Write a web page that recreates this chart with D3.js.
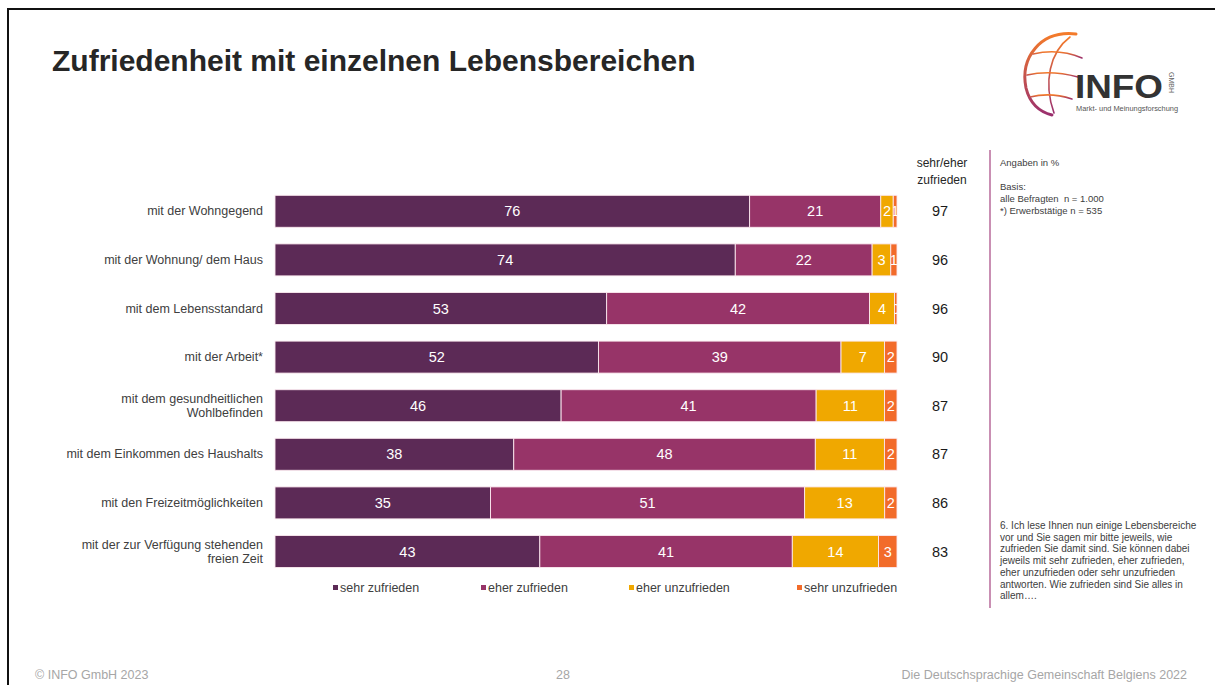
<!DOCTYPE html>
<html>
<head>
<meta charset="utf-8">
<script src="https://cdnjs.cloudflare.com/ajax/libs/d3/7.8.5/d3.min.js"></script>
<style>
  body { margin: 0; background: #fff; }
  svg { display: block; font-family: "Liberation Sans", Arial, sans-serif; }
</style>
</head>
<body>
<svg id="chart" width="1215" height="685"></svg>
<script>
// ====================== DATA ======================
const categories = [
  "mit der Wohngegend",
  "mit der Wohnung/ dem Haus",
  "mit dem Lebensstandard",
  "mit der Arbeit*",
  "mit dem gesundheitlichen|Wohlbefinden",
  "mit dem Einkommen des Haushalts",
  "mit den Freizeitmöglichkeiten",
  "mit der zur Verfügung stehenden|freien Zeit"
];
const seriesNames = ["sehr zufrieden", "eher zufrieden", "eher unzufrieden", "sehr unzufrieden"];
const sehrZufrieden   = [76, 74, 53, 52, 46, 38, 35, 43];
const eherZufrieden   = [21, 22, 42, 39, 41, 48, 51, 41];
const eherUnzufrieden = [2, 3, 4, 7, 11, 11, 13, 14];
const sehrUnzufrieden = [0.6, 1, 0.4, 2, 2, 2, 2, 3];
const topBox = [97, 96, 96, 90, 87, 87, 86, 83];
const colors = ["#5c2a56", "#973468", "#f0a800", "#f26b2a"];

const rows = categories.map((c, i) => ({
  cat: c,
  "sehr zufrieden": sehrZufrieden[i],
  "eher zufrieden": eherZufrieden[i],
  "eher unzufrieden": eherUnzufrieden[i],
  "sehr unzufrieden": sehrUnzufrieden[i],
  top: topBox[i]
}));

const svg = d3.select("#chart");

// ====================== FRAME ======================
svg.append("line").attr("x1", 8).attr("x2", 1215).attr("y1", 9).attr("y2", 9)
  .attr("stroke", "#111").attr("stroke-width", 2);
svg.append("line").attr("x1", 8).attr("x2", 8).attr("y1", 8).attr("y2", 685)
  .attr("stroke", "#111").attr("stroke-width", 2);

// title
svg.append("text")
  .attr("x", 52).attr("y", 71)
  .style("font-size", "30px").style("font-weight", "bold").attr("fill", "#262626")
  .text("Zufriedenheit mit einzelnen Lebensbereichen");

// ====================== LOGO ======================
const defs = svg.append("defs");
const grad = defs.append("linearGradient").attr("id", "logoGrad")
  .attr("x1", 0).attr("y1", 0).attr("x2", 0).attr("y2", 1);
grad.append("stop").attr("offset", "0%").attr("stop-color", "#f47b2a");
grad.append("stop").attr("offset", "100%").attr("stop-color", "#9a2f6e");

const logo = svg.append("g").attr("fill", "none").attr("stroke", "url(#logoGrad)").attr("stroke-linecap", "round");
logo.append("path").attr("d", "M1076,34 C1040,30 1020,58 1026,88 C1030,104 1040,112 1052,115").attr("stroke-width", 3);
logo.append("path").attr("d", "M1070,37 C1050,52 1043,82 1054,113").attr("stroke-width", 1.6);
logo.append("path").attr("d", "M1033,54 C1050,50 1068,52 1082,58").attr("stroke-width", 1.6);
logo.append("path").attr("d", "M1027,75 C1045,71 1063,73 1078,77").attr("stroke-width", 1.6);
logo.append("path").attr("d", "M1030,97 C1046,93 1060,95 1072,99").attr("stroke-width", 1.6);
svg.append("text").attr("x", 1075).attr("y", 98)
  .style("font-size", "33px").style("font-weight", "bold").attr("fill", "#333")
  .attr("textLength", 88).attr("lengthAdjust", "spacingAndGlyphs")
  .text("INFO");
svg.append("text").attr("transform", "translate(1169,72) rotate(90)")
  .style("font-size", "7px").attr("fill", "#666").text("GMBH");
svg.append("text").attr("x", 1076).attr("y", 111)
  .style("font-size", "7.5px").attr("fill", "#555")
  .attr("textLength", 102).attr("lengthAdjust", "spacingAndGlyphs")
  .text("Markt- und Meinungsforschung");

// ====================== CHART ======================
const x = d3.scaleLinear().domain([0, 1]).range([275, 897]);
const y = d3.scaleBand().domain(categories).range([187, 575.8])
  .paddingInner(0.342).paddingOuter(0.171);

const stack = d3.stack().keys(seriesNames).offset(d3.stackOffsetExpand);
const series = stack(rows);

series.forEach((s, si) => {
  const g = svg.append("g");
  s.forEach((d, i) => {
    const x0 = x(d[0]), x1 = x(d[1]);
    const yy = y(d.data.cat), h = y.bandwidth();
    const clipId = `clip-${si}-${i}`;
    defs.append("clipPath").attr("id", clipId)
      .append("rect").attr("x", x0).attr("y", yy).attr("width", Math.max(0, x1 - x0)).attr("height", h);
    g.append("rect")
      .attr("x", x0).attr("y", yy)
      .attr("width", Math.max(0, x1 - x0)).attr("height", h)
      .attr("fill", colors[si])
      .attr("stroke", "#fbe9ef").attr("stroke-width", 0.9);
    g.append("text")
      .attr("clip-path", `url(#${clipId})`)
      .attr("x", (x0 + x1) / 2).attr("y", yy + h / 2 + 5)
      .attr("text-anchor", "middle")
      .style("font-size", "14.5px").attr("fill", "#fff")
      .text(Math.round(d.data[seriesNames[si]]));
  });
});

// category labels
categories.forEach(c => {
  const parts = c.split("|");
  const cy = y(c) + y.bandwidth() / 2;
  const t = svg.append("text").attr("text-anchor", "end")
    .style("font-size", "12.5px").attr("fill", "#404040");
  parts.forEach((p, k) => {
    t.append("tspan").attr("x", 263)
      .attr("y", cy + 4 + (k - (parts.length - 1) / 2) * 14)
      .text(p);
  });
});

// top box column
svg.append("text").attr("x", 942).attr("y", 167).attr("text-anchor", "middle")
  .style("font-size", "12px").attr("fill", "#262626").text("sehr/eher");
svg.append("text").attr("x", 942).attr("y", 184).attr("text-anchor", "middle")
  .style("font-size", "12px").attr("fill", "#262626").text("zufrieden");
rows.forEach(d => {
  svg.append("text").attr("x", 940).attr("y", y(d.cat) + y.bandwidth() / 2 + 5)
    .attr("text-anchor", "middle").style("font-size", "14.5px").attr("fill", "#1a1a1a")
    .text(d.top);
});

// legend
const legendX = [333, 481, 629, 797];
seriesNames.forEach((n, i) => {
  svg.append("rect").attr("x", legendX[i]).attr("y", 585).attr("width", 5).attr("height", 5)
    .attr("fill", colors[i]);
  svg.append("text").attr("x", legendX[i] + 7).attr("y", 592)
    .style("font-size", "12.5px").attr("fill", "#404040").text(n);
});

// ====================== SIDE NOTES ======================
svg.append("line").attr("x1", 990).attr("x2", 990).attr("y1", 150).attr("y2", 608)
  .attr("stroke", "#c98fb3").attr("stroke-width", 2);

const noteTop = [["Angaben in %", 166], ["Basis:", 190], ["alle Befragten  n = 1.000", 202], ["*) Erwerbstätige n = 535", 214]];
noteTop.forEach(([t, yy]) => {
  svg.append("text").attr("x", 1000).attr("y", yy)
    .style("font-size", "9.5px").attr("fill", "#404040").attr("xml:space", "preserve").text(t);
});
const noteBottom = [
  "6. Ich lese Ihnen nun einige Lebensbereiche",
  "vor und Sie sagen mir bitte jeweils, wie",
  "zufrieden Sie damit sind. Sie können dabei",
  "jeweils mit sehr zufrieden, eher zufrieden,",
  "eher unzufrieden oder sehr unzufrieden",
  "antworten. Wie zufrieden sind Sie alles in",
  "allem…."
];
noteBottom.forEach((t, k) => {
  svg.append("text").attr("x", 1000).attr("y", 529 + k * 11.7)
    .style("font-size", "10px").attr("fill", "#404040").text(t);
});

// ====================== FOOTER ======================
svg.append("text").attr("x", 35).attr("y", 679).style("font-size", "12.5px").attr("fill", "#a6a6a6")
  .text("© INFO GmbH 2023");
svg.append("text").attr("x", 563).attr("y", 679).attr("text-anchor", "middle").style("font-size", "12.5px").attr("fill", "#a6a6a6")
  .text("28");
svg.append("text").attr("x", 1187).attr("y", 679).attr("text-anchor", "end").style("font-size", "12.5px").attr("fill", "#a6a6a6")
  .text("Die Deutschsprachige Gemeinschaft Belgiens 2022");
</script>
</body>
</html>
